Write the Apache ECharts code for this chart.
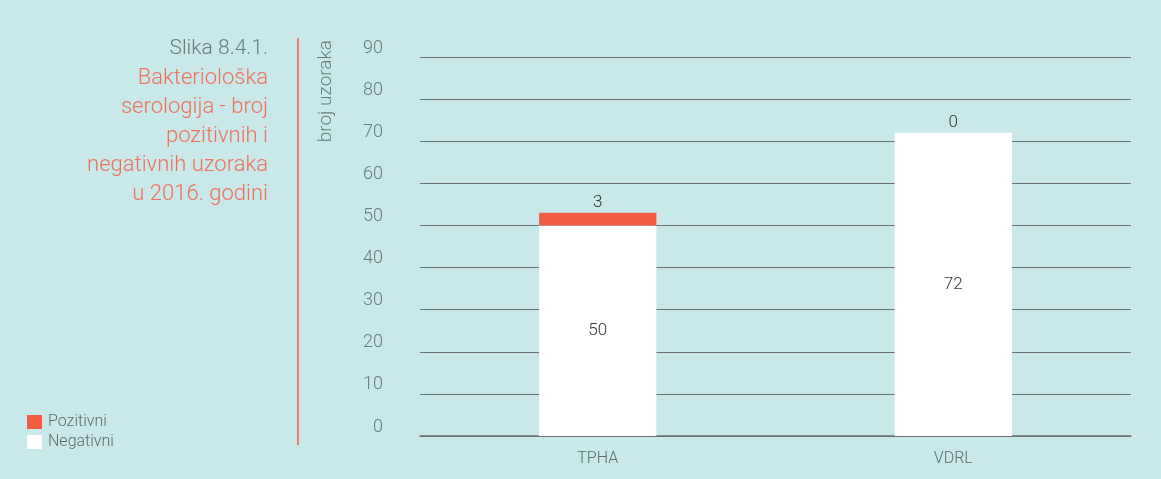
<!DOCTYPE html>
<html>
<head>
<meta charset="utf-8">
<script src="https://cdn.jsdelivr.net/npm/echarts@6/dist/echarts.min.js"></script>
<style>
html,body{margin:0;padding:0;background:#c8e8ea;}
#c{width:1161px;height:479px;}
</style>
</head>
<body>
<div id="c"></div>
<script>
const categories = ['TPHA', 'VDRL'];
const negativni = [50, 72];
const pozitivni = [3, 0];
const yTicks = { min: 0, max: 90, interval: 10 };
const titleTop = 'Slika 8.4.1.';
const titleLines = ['Bakteriološka', 'serologija - broj', 'pozitivnih i', 'negativnih uzoraka', 'u 2016. godini'];
const yName = 'broj uzoraka';

const FONT = 'Roboto';
const chart = echarts.init(document.getElementById('c'));
chart.setOption({
  backgroundColor: '#c8e8ea',
  animation: false,
  textStyle: { fontFamily: FONT },
  grid: { left: 420, right: 30, top: 57, bottom: 43 },
  legend: {
    orient: 'vertical', left: 22, top: 409,
    itemWidth: 15, itemHeight: 14, itemGap: 4,
    icon: 'rect',
    data: ['Pozitivni', 'Negativni'],
    textStyle: { fontSize: 16, color: '#5f6b6d', fontFamily: FONT, fontWeight: 300, padding: [0,0,0,1] }
  },
  xAxis: {
    type: 'category', data: categories,
    axisLine: { show: true, lineStyle: { color: '#6b7375', width: 1.5 } },
    axisTick: { show: false },
    axisLabel: { color: '#5f6b6d', fontSize: 16, margin: 15, fontFamily: FONT, fontWeight: 300 }
  },
  yAxis: {
    type: 'value', min: yTicks.min, max: yTicks.max, interval: yTicks.interval,
    axisLine: { show: false }, axisTick: { show: false },
    splitLine: { lineStyle: { color: '#6b7375', width: 1.2 } },
    axisLabel: { color: '#6b7b7d', fontSize: 18, margin: 37, verticalAlign: 'bottom', fontFamily: FONT, fontWeight: 300 }
  },
  series: [
    {
      name: 'Negativni', type: 'bar', stack: 's', data: negativni, barWidth: '33%',
      itemStyle: { color: '#ffffff' },
      label: { show: true, position: 'inside', color: '#333', fontSize: 17, fontFamily: FONT, fontWeight: 300 }
    },
    {
      name: 'Pozitivni', type: 'bar', stack: 's', data: pozitivni, barWidth: '33%',
      itemStyle: { color: '#f25c42' },
      label: { show: true, position: 'top', distance: 2, color: '#333', fontSize: 17, fontFamily: FONT, fontWeight: 300 }
    }
  ],
  graphic: [
    { type: 'text', x: 268, y: 38, style: { text: titleTop, align: 'right', fill: '#6b7b7d', fontSize: 21, fontFamily: FONT, fontWeight: 300 } },
    { type: 'text', x: 268, y: 64, style: { text: titleLines.join('\n'), align: 'right', fill: '#f0705a', fontSize: 22, lineHeight: 29, fontFamily: FONT, fontWeight: 300 } },
    { type: 'line', shape: { x1: 298, y1: 38, x2: 298, y2: 445 }, style: { stroke: '#e8806a', lineWidth: 2 } },
    { type: 'text', x: 326, y: 40, rotation: Math.PI / 2, style: { text: yName, align: 'right', verticalAlign: 'middle', fill: '#6b7b7d', fontSize: 19, fontFamily: FONT, fontWeight: 300 } }
  ]
});
</script>
</body>
</html>
